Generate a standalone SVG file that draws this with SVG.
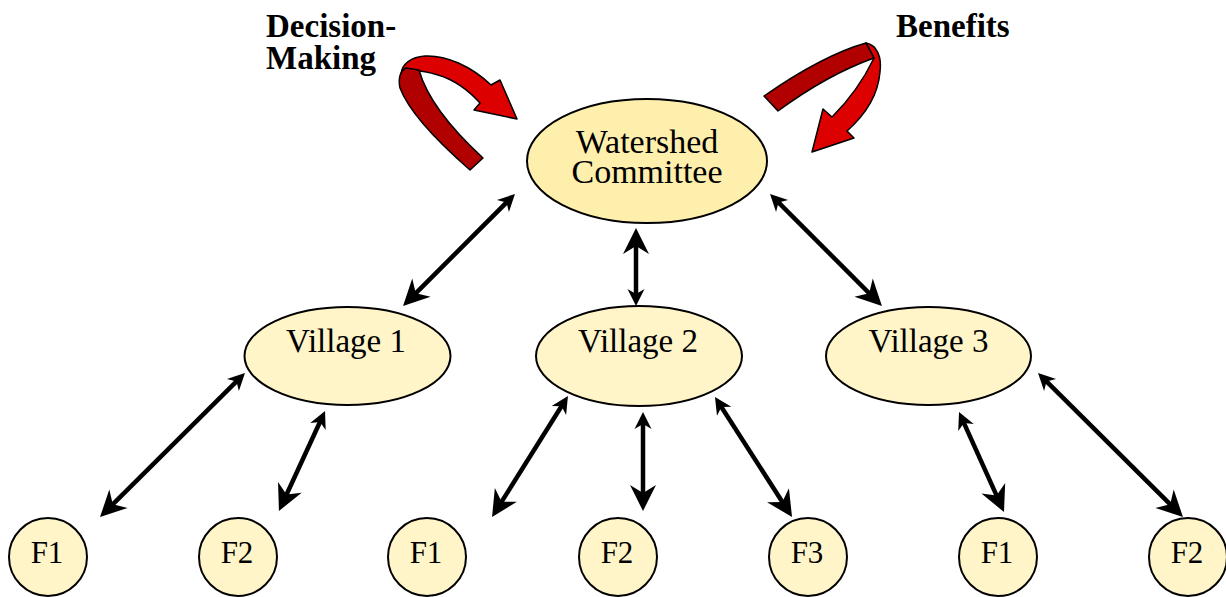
<svg xmlns="http://www.w3.org/2000/svg" width="1226" height="597" viewBox="0 0 1226 597">
  <style>
    .node { fill: #FFF5C8; stroke: #000; stroke-width: 2; }
    .wc { fill: #FFEFAD; stroke: #000; stroke-width: 2; }
    .lbl { font-family: "Liberation Serif", "Times New Roman", serif; fill: #000; text-anchor: middle; }
    .wct { font-size: 34px; }
    .big { font-size: 33px; }
    .f { font-size: 31px; }
    .title { font-family: "Liberation Serif", "Times New Roman", serif; font-weight: bold; font-size: 33px; fill: #000; }
    .conn { stroke: #000; stroke-width: 4.5; fill: none; marker-start: url(#sm); marker-end: url(#lg); }
    .bright { fill: #DD0000; stroke: #000; stroke-width: 1.5; stroke-linejoin: round; }
    .dark { fill: #B00000; stroke: #000; stroke-width: 1.5; stroke-linejoin: round; }
  </style>
  <defs>
    <marker id="lg" markerUnits="userSpaceOnUse" orient="auto-start-reverse" overflow="visible" refX="0" refY="0" markerWidth="1" markerHeight="1">
      <path d="M8,0 L-18,-13 L-10,0 L-18,13 Z" fill="#000"/>
    </marker>
    <marker id="sm" markerUnits="userSpaceOnUse" orient="auto-start-reverse" overflow="visible" refX="0" refY="0" markerWidth="1" markerHeight="1">
      <path d="M8,0 L-9,-8.5 L-4,0 L-9,8.5 Z" fill="#000"/>
    </marker>
  </defs>

  <g id="labels">
    <text class="title" x="266" y="37">Decision-</text>
    <text class="title" x="266" y="69">Making</text>
    <text class="title" x="896" y="37">Benefits</text>
  </g>

  <g id="decision-arrow">
    <path class="bright" d="M401,74 C402,64 411,57 425,56 C446,55 471,66 491,85 L500,80 L517,119 L474,110 L480,103 C470,92 455,80 438,75 C428,72 420,70 410,71 Z"/>
    <path class="dark" d="M406,68 L419,70 C426,95 446,124 483,158 L470,170 C438,142 409,112 400,88 C398,79 400,71 406,68 Z"/>
  </g>
  <g id="benefits-arrow">
    <path class="bright" d="M866,43 C877,45 882,57 880,72 C878,96 864,116 847,131 L854,138 L812,152 L823,109 L832,117 C849,100 864,79 874,58 Z"/>
    <path class="dark" d="M764,96 C790,78 830,53 866,43 L874,58 C846,68 812,86 778,111 Z"/>
  </g>

  <g id="connectors">
    <line class="conn" x1="509.3" y1="199.7" x2="408.7" y2="300.3"/>
    <line class="conn" x1="636" y1="236" x2="636" y2="298" style="marker-start:url(#lg);marker-end:url(#sm)"/>
    <line class="conn" x1="775.7" y1="199.7" x2="876.3" y2="300.3"/>
    <line class="conn" x1="239.3" y1="378.6" x2="105.7" y2="511.4"/>
    <line class="conn" x1="321.7" y1="418.3" x2="282.3" y2="503.7"/>
    <line class="conn" x1="563.7" y1="402.8" x2="496.3" y2="510.2"/>
    <line class="conn" x1="643" y1="420" x2="643" y2="503"/>
    <line class="conn" x1="719.3" y1="403.7" x2="787.7" y2="510.3"/>
    <line class="conn" x1="962.3" y1="419.3" x2="1000.7" y2="504.7"/>
    <line class="conn" x1="1043.7" y1="378.6" x2="1177.3" y2="511.4"/>
  </g>

  <g id="watershed-committee">
    <ellipse class="wc" cx="647" cy="161" rx="120" ry="62"/>
    <text class="lbl wct" x="647" y="153">Watershed</text>
    <text class="lbl wct" x="647" y="183">Committee</text>
  </g>

  <g id="village-1">
    <ellipse class="node" cx="347.5" cy="356" rx="103" ry="49"/>
    <text class="lbl big" x="346" y="352">Village 1</text>
  </g>
  <g id="village-2">
    <ellipse class="node" cx="639" cy="356" rx="103" ry="50"/>
    <text class="lbl big" x="638" y="352">Village 2</text>
  </g>
  <g id="village-3">
    <ellipse class="node" cx="928.5" cy="356" rx="102.5" ry="49"/>
    <text class="lbl big" x="928.5" y="352">Village 3</text>
  </g>

  <g id="v1-f1">
    <circle class="node" cx="48" cy="557" r="39"/>
    <text class="lbl f" x="47" y="563">F1</text>
  </g>
  <g id="v1-f2">
    <circle class="node" cx="238" cy="557" r="39"/>
    <text class="lbl f" x="237" y="563">F2</text>
  </g>
  <g id="v2-f1">
    <circle class="node" cx="427" cy="557" r="39"/>
    <text class="lbl f" x="426" y="563">F1</text>
  </g>
  <g id="v2-f2">
    <circle class="node" cx="618" cy="557" r="39"/>
    <text class="lbl f" x="617" y="563">F2</text>
  </g>
  <g id="v2-f3">
    <circle class="node" cx="808" cy="557" r="39"/>
    <text class="lbl f" x="807" y="563">F3</text>
  </g>
  <g id="v3-f1">
    <circle class="node" cx="998" cy="557" r="39"/>
    <text class="lbl f" x="997" y="563">F1</text>
  </g>
  <g id="v3-f2">
    <circle class="node" cx="1188" cy="557" r="39"/>
    <text class="lbl f" x="1187" y="563">F2</text>
  </g>
</svg>
